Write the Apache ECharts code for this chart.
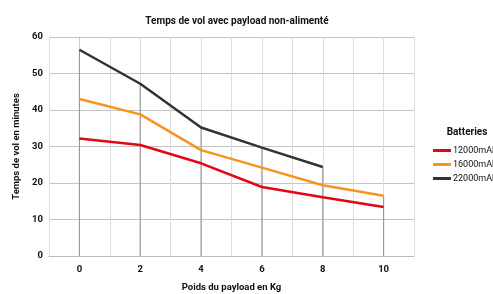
<!DOCTYPE html>
<html>
<head>
<meta charset="utf-8">
<script src="https://cdn.jsdelivr.net/npm/echarts@6/dist/echarts.min.js"></script>
<style>
  html, body { margin: 0; padding: 0; background: #fff; }
  #chart { width: 493px; height: 294px; }
</style>
</head>
<body>
<div id="chart"></div>
<script>
  // données
  var payload = [0, 2, 4, 6, 8, 10];
  var bat12000 = [32.2, 30.4, 25.4, 18.9, 16.1, 13.4];
  var bat16000 = [43.0, 38.8, 29.0, 24.2, 19.4, 16.5];
  var bat22000 = [56.5, 47.2, 35.2, 29.7, 24.4];
  var seriesNames = ['12000mAh', '16000mAh', '22000mAh'];
  var yTicks = [0, 10, 20, 30, 40, 50, 60];

  var font = 'Roboto';

  function pairs(vals) {
    return vals.map(function (v, i) { return [payload[i], v]; });
  }

  // lignes verticales grises : du point le plus haut jusqu'à l'axe
  var dropTops = payload.map(function (x, i) {
    var m = Math.max(bat12000[i], bat16000[i], bat22000[i] == null ? 0 : bat22000[i]);
    return [x, m];
  });

  var myChart = echarts.init(document.getElementById('chart'));
  myChart.setOption({
    animation: false,
    textStyle: { fontFamily: font },
    title: [
      {
        text: 'Temps de vol avec payload non-alimenté',
        left: 232, top: 11, textAlign: 'center',
        textStyle: { fontSize: 10, fontWeight: 'bold', color: '#111', fontFamily: font }
      },
      {
        text: 'Batteries',
        left: 462, top: 122, textAlign: 'center',
        textStyle: { fontSize: 10, fontWeight: 'bold', color: '#111', fontFamily: font }
      }
    ],
    legend: {
      data: seriesNames,
      orient: 'vertical',
      left: 428, top: 141,
      icon: 'rect',
      itemWidth: 18, itemHeight: 3,
      itemGap: 5,
      textStyle: { fontSize: 9, color: '#111', fontFamily: font, padding: [0, 0, 0, -3] }
    },
    grid: { left: 49, right: 79, top: 37, bottom: 38, outerBoundsMode: 'none' },
    xAxis: {
      type: 'value',
      min: -1, max: 11, interval: 1,
      name: 'Poids du payload en Kg',
      nameLocation: 'middle', nameGap: 27,
      nameTextStyle: { fontSize: 9.5, fontWeight: 'bold', color: '#111' },
      axisLine: { lineStyle: { color: '#bbb' } },
      axisTick: { show: false },
      axisLabel: {
        fontSize: 9.5, fontWeight: 'bold', color: '#111', margin: 9,
        formatter: function (v) { return (v >= 0 && v % 2 === 0) ? String(v) : ''; }
      },
      splitLine: { show: true, lineStyle: { color: '#dcdcdc', width: 1 } }
    },
    yAxis: {
      type: 'value',
      min: yTicks[0], max: yTicks[yTicks.length - 1], interval: 10,
      name: 'Temps de vol en minutes',
      nameLocation: 'middle', nameGap: 25, nameRotate: 90,
      nameTextStyle: { fontSize: 9.5, fontWeight: 'bold', color: '#111' },
      axisLine: { show: true, lineStyle: { color: '#ccc' } },
      axisTick: { show: false },
      axisLabel: { fontSize: 9.5, fontWeight: 'bold', color: '#111', margin: 6 },
      splitLine: { show: true, lineStyle: { color: '#c4c4c4', width: 1 } }
    },
    series: [
      {
        type: 'bar',
        data: dropTops,
        barWidth: 1.2,
        silent: true,
        itemStyle: { color: '#9a9a9a' },
        z: 1
      },
      {
        name: seriesNames[0], type: 'line', data: pairs(bat12000),
        showSymbol: false, symbol: 'none',
        lineStyle: { color: '#e30613', width: 2.5 }, itemStyle: { color: '#e30613' }, z: 3
      },
      {
        name: seriesNames[1], type: 'line', data: pairs(bat16000),
        showSymbol: false, symbol: 'none',
        lineStyle: { color: '#f7941d', width: 2.5 }, itemStyle: { color: '#f7941d' }, z: 3
      },
      {
        name: seriesNames[2], type: 'line', data: pairs(bat22000),
        showSymbol: false, symbol: 'none',
        lineStyle: { color: '#333333', width: 2.5 }, itemStyle: { color: '#333333' }, z: 3
      }
    ]
  });
</script>
</body>
</html>
